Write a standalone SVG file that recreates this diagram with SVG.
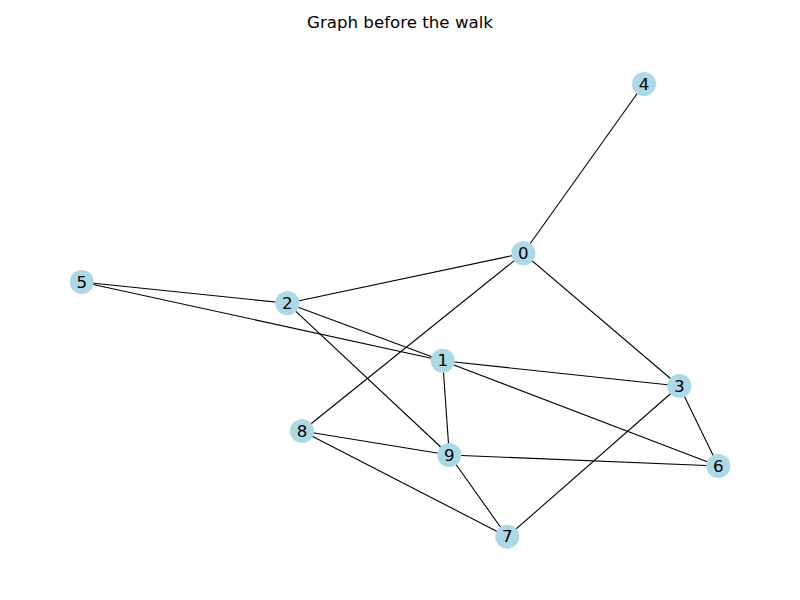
<svg xmlns="http://www.w3.org/2000/svg" width="800" height="600" viewBox="0 0 800 600">
<style>
.e{stroke:#000;stroke-width:1.1;fill:none}
.n circle{fill:#ADD8E6}
.n text{font-family:"DejaVu Sans",sans-serif;font-size:16.67px;fill:#000;text-anchor:middle;dominant-baseline:central}
.t{font-family:"DejaVu Sans",sans-serif;font-size:16.67px;fill:#000;text-anchor:middle}
</style>
<rect width="800" height="600" fill="#fff"/>
<text class="t" x="400" y="28">Graph before the walk</text>
<g id="edges">
<line class="e" x1="644" y1="84" x2="523.3" y2="253.3"/>
<line class="e" x1="523.3" y1="253.3" x2="287.3" y2="303.3"/>
<line class="e" x1="523.3" y1="253.3" x2="302" y2="431"/>
<line class="e" x1="523.3" y1="253.3" x2="679.3" y2="386"/>
<line class="e" x1="81.7" y1="282" x2="287.3" y2="303.3"/>
<line class="e" x1="81.7" y1="282" x2="442.7" y2="360.7"/>
<line class="e" x1="287.3" y1="303.3" x2="442.7" y2="360.7"/>
<line class="e" x1="287.3" y1="303.3" x2="449.3" y2="455"/>
<line class="e" x1="442.7" y1="360.7" x2="679.3" y2="386"/>
<line class="e" x1="442.7" y1="360.7" x2="718.3" y2="466"/>
<line class="e" x1="442.7" y1="360.7" x2="449.3" y2="455"/>
<line class="e" x1="679.3" y1="386" x2="718.3" y2="466"/>
<line class="e" x1="679.3" y1="386" x2="507.3" y2="536.7"/>
<line class="e" x1="302" y1="431" x2="449.3" y2="455"/>
<line class="e" x1="302" y1="431" x2="507.3" y2="536.7"/>
<line class="e" x1="449.3" y1="455" x2="718.3" y2="466"/>
<line class="e" x1="449.3" y1="455" x2="507.3" y2="536.7"/>
</g>
<g id="node0" class="n"><circle cx="523.3" cy="253.3" r="12"/><text x="523.3" y="253.3">0</text></g>
<g id="node1" class="n"><circle cx="442.7" cy="360.7" r="12"/><text x="442.7" y="360.7">1</text></g>
<g id="node2" class="n"><circle cx="287.3" cy="303.3" r="12"/><text x="287.3" y="303.3">2</text></g>
<g id="node3" class="n"><circle cx="679.3" cy="386" r="12"/><text x="679.3" y="386">3</text></g>
<g id="node4" class="n"><circle cx="644" cy="84" r="12"/><text x="644" y="84">4</text></g>
<g id="node5" class="n"><circle cx="81.7" cy="282" r="12"/><text x="81.7" y="282">5</text></g>
<g id="node6" class="n"><circle cx="718.3" cy="466" r="12"/><text x="718.3" y="466">6</text></g>
<g id="node7" class="n"><circle cx="507.3" cy="536.7" r="12"/><text x="507.3" y="536.7">7</text></g>
<g id="node8" class="n"><circle cx="302" cy="431" r="12"/><text x="302" y="431">8</text></g>
<g id="node9" class="n"><circle cx="449.3" cy="455" r="12"/><text x="449.3" y="455">9</text></g>
</svg>
